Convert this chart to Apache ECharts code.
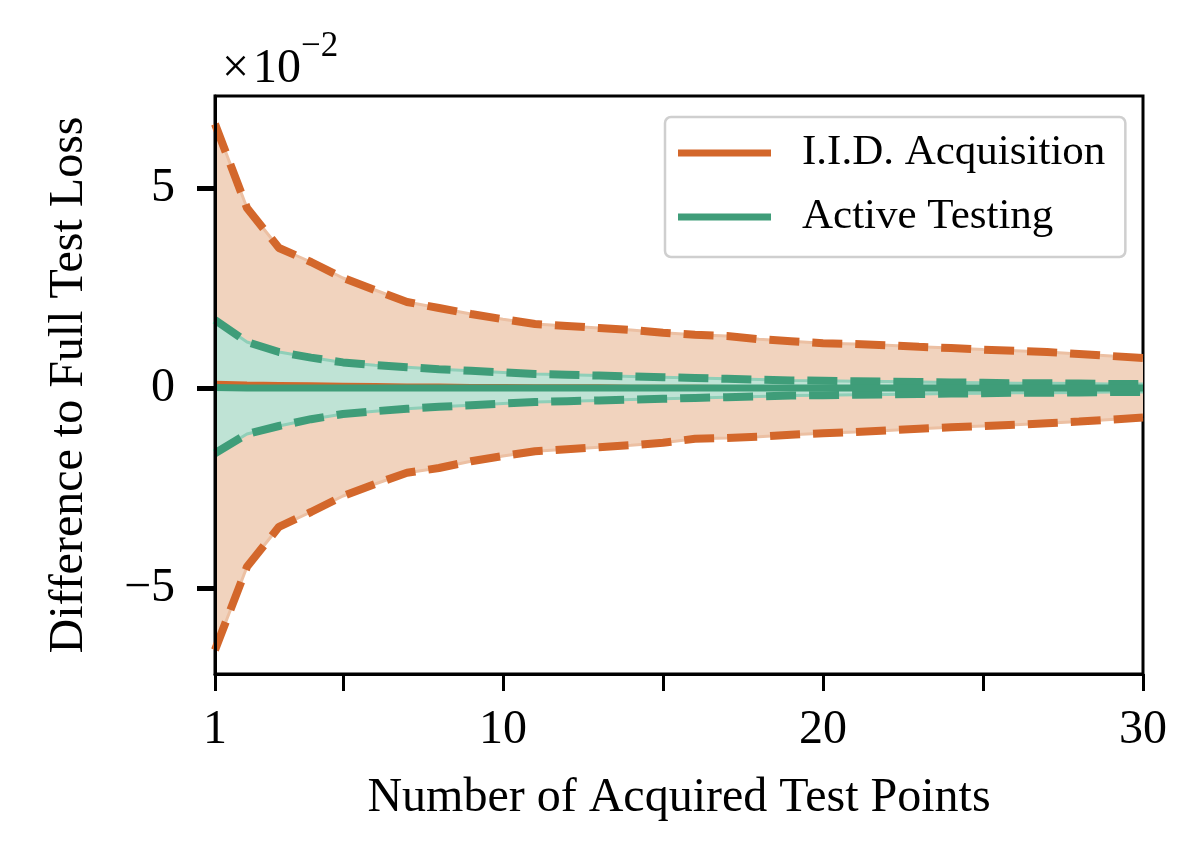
<!DOCTYPE html>
<html>
<head>
<meta charset="utf-8">
<script src="https://cdn.jsdelivr.net/npm/echarts@6/dist/echarts.min.js"></script>
<style>
    html, body {margin: 0; padding: 0; background: #fff;}
    #chart {width: 1200px; height: 850px;}
</style>
</head>
<body>
<div id="chart"></div>
<script>
// values in units of 1e-2
var xPoints = [1, 2, 3, 4, 5, 6, 7, 8, 9, 10, 11, 12, 13, 14, 15, 16, 17, 18, 19, 20, 21, 22, 23, 24, 25, 26, 27, 28, 29, 30];

var iidUpper = [6.6, 4.5, 3.5, 3.15, 2.75, 2.45, 2.15, 2.0, 1.85, 1.72, 1.6, 1.55, 1.5, 1.45, 1.38, 1.33, 1.3, 1.22, 1.17, 1.12, 1.1, 1.07, 1.03, 1.0, 0.96, 0.93, 0.9, 0.85, 0.8, 0.75];
var iidLower = [-6.55, -4.47, -3.47, -3.1, -2.7, -2.4, -2.12, -2.0, -1.83, -1.7, -1.58, -1.53, -1.48, -1.43, -1.37, -1.27, -1.25, -1.22, -1.17, -1.13, -1.1, -1.06, -1.02, -0.98, -0.95, -0.92, -0.88, -0.84, -0.79, -0.74];
var iidMean = [0.12, 0.1, 0.09, 0.08, 0.07, 0.06, 0.05, 0.05, 0.04, 0.04, 0.03, 0.03, 0.03, 0.02, 0.02, 0.02, 0.01, 0.01, 0.01, 0.01, 0.0, 0.0, 0.0, 0.0, 0.0, 0.0, 0.0, 0.0, 0.0, 0.0];

var activeUpper = [1.7, 1.15, 0.9, 0.76, 0.64, 0.57, 0.52, 0.47, 0.43, 0.39, 0.35, 0.33, 0.31, 0.29, 0.27, 0.25, 0.23, 0.21, 0.19, 0.18, 0.17, 0.16, 0.15, 0.14, 0.13, 0.12, 0.12, 0.11, 0.1, 0.1];
var activeLower = [-1.63, -1.15, -0.95, -0.78, -0.65, -0.58, -0.52, -0.47, -0.43, -0.39, -0.35, -0.33, -0.31, -0.29, -0.27, -0.25, -0.23, -0.21, -0.19, -0.18, -0.17, -0.16, -0.15, -0.14, -0.13, -0.12, -0.12, -0.11, -0.1, -0.1];
var activeMean = [0.01, 0.0, 0.0, 0.0, 0.0, 0.0, 0.0, 0.0, 0.0, 0.0, 0.0, 0.0, 0.0, 0.0, 0.0, 0.0, 0.0, 0.0, 0.0, 0.0, 0.0, 0.0, 0.0, 0.0, 0.0, 0.0, 0.0, 0.0, 0.0, 0.0];

var xTicks = [1, 5, 10, 15, 20, 25, 30];
var xLabels = [1, 10, 20, 30];
var yTicks = [-5, 0, 5];

var FONT = 'Liberation Serif';
var orange = '#d3672b', orangeFill = '#f1d3be', orangeEdge = '#ecc0a3';
var green = '#3f9d79', greenFill = '#bfe3d5', greenEdge = '#8fcfb8';

var pairs = function (ys) {
    var out = [];
    for (var i = 0; i < xPoints.length; i++) {
        out.push([xPoints[i], ys[i]]);
    }
    return out;
};

//填充带 (fill to 0 from each bound)
var band = function (name, ys, fill, edge) {
    return {
        name: name, type: 'line', data: pairs(ys),
        showSymbol: false, silent: true,
        lineStyle: {color: edge, width: 3},
        areaStyle: {color: fill, opacity: 1, origin: 'auto'}
    };
};

var dashed = function (name, ys, color) {
    return {
        name: name, type: 'line', data: pairs(ys),
        showSymbol: false, silent: true,
        lineStyle: {color: color, width: 8, type: [30, 13]}
    };
};

var meanLine = function (name, ys, color, w) {
    return {
        name: name, type: 'line', data: pairs(ys),
        showSymbol: false, silent: true,
        itemStyle: {color: color},
        lineStyle: {color: color, width: w}
    };
};

var chart = echarts.init(document.getElementById('chart'));

var option = {
    backgroundColor: '#fff',
    animation: false,
    title: {
        text: '{a|×\u200a10}{b|−2}',
        left: 217, top: 24,
        textStyle: {
            fontWeight: 'normal',
            rich: {
                a: {fontFamily: FONT, fontSize: 48, fontWeight: 'normal', color: '#000', lineHeight: 64, verticalAlign: 'bottom'},
                b: {fontFamily: FONT, fontSize: 35, fontWeight: 'normal', color: '#000', lineHeight: 64, verticalAlign: 'top'}
            }
        }
    },
    legend: {
        data: ['I.I.D. Acquisition', 'Active Testing'],
        orient: 'vertical',
        left: 665, top: 117,
        padding: [12, 20, 16, 13],
        itemGap: 16,
        itemWidth: 93, itemHeight: 7,
        icon: 'rect',
        backgroundColor: '#fff',
        borderColor: '#cfcfcf', borderWidth: 2.5, borderRadius: 6,
        textStyle: {fontFamily: FONT, fontSize: 43, color: '#000', lineHeight: 48, padding: [0, 0, 0, 26]}
    },
    grid: {
        left: 215, right: 57, top: 96, bottom: 176,
        show: true, borderColor: '#000', borderWidth: 3
    },
    xAxis: {
        type: 'value', min: 1, max: 30, z: 5,
        name: 'Number of Acquired Test Points',
        nameLocation: 'middle', nameGap: 100,
        nameTextStyle: {fontFamily: FONT, fontSize: 48, color: '#000'},
        axisLine: {show: true, onZero: false, lineStyle: {color: '#000', width: 3}},
        axisTick: {show: true, inside: false, customValues: xTicks, length: 17, lineStyle: {color: '#000', width: 3}},
        axisLabel: {customValues: xLabels, fontFamily: FONT, fontSize: 48, color: '#000', margin: 32},
        splitLine: {show: false}
    },
    yAxis: {
        type: 'value', min: -7.15, max: 7.3, z: 6,
        position: 'left',
        name: 'Difference to Full Test Loss',
        nameLocation: 'middle', nameGap: 122,
        nameTextStyle: {fontFamily: FONT, fontSize: 48, color: '#000'},
        axisLine: {show: true, onZero: false, lineStyle: {color: '#000', width: 3}},
        axisTick: {show: true, inside: false, customValues: yTicks, length: 18, lineStyle: {color: '#000', width: 5}},
        axisLabel: {
            customValues: yTicks, fontFamily: FONT, fontSize: 48, color: '#000', margin: 40,
            formatter: function (v) { return v < 0 ? '\u2212' + Math.abs(v) : String(v); }
        },
        splitLine: {show: false}
    },
    series: [
        band('iid_hi', iidUpper, orangeFill, orangeEdge),
        band('iid_lo', iidLower, orangeFill, orangeEdge),
        dashed('iid_hi_d', iidUpper, orange),
        dashed('iid_lo_d', iidLower, orange),
        meanLine('I.I.D. Acquisition', iidMean, orange, 5),
        band('act_hi', activeUpper, greenFill, greenEdge),
        band('act_lo', activeLower, greenFill, greenEdge),
        dashed('act_hi_d', activeUpper, green),
        dashed('act_lo_d', activeLower, green),
        meanLine('Active Testing', activeMean, green, 7)
    ]
};
chart.setOption(option);
</script>
</body>
</html>
